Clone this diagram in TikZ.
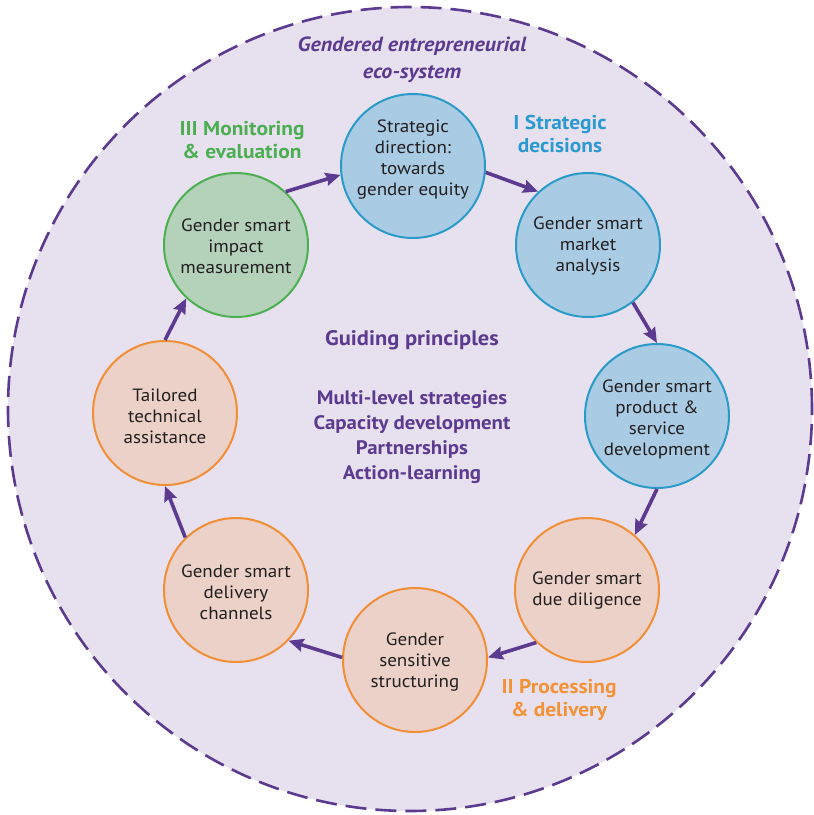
\documentclass[tikz,border=0pt]{standalone}
\usepackage{fontspec}
\setmainfont{PT Sans}[FakeStretch=1.07]
\usetikzlibrary{arrows.meta}
\definecolor{bgc}{HTML}{E7E1EF}
\definecolor{purp}{HTML}{5B3A8F}
\definecolor{bfill}{HTML}{A9CBE4}
\definecolor{bline}{HTML}{2A9BC9}
\definecolor{gfill}{HTML}{B4D2BA}
\definecolor{gline}{HTML}{4CAF50}
\definecolor{ofill}{HTML}{EBD1C7}
\definecolor{oline}{HTML}{F28E35}
\definecolor{txt}{HTML}{231F20}
\definecolor{lblue}{HTML}{2A9AD0}
\definecolor{lgreen}{HTML}{4BAE50}
\definecolor{lorange}{HTML}{F39235}
\tikzset{
  stage/.style={circle, minimum size=144pt, inner sep=0pt, line width=2pt},
  bluec/.style={stage, draw=bline, fill=bfill},
  greenc/.style={stage, draw=gline, fill=gfill},
  orangec/.style={stage, draw=oline, fill=ofill},
  ctext/.style={align=center, text=txt, font=\fontsize{17.8}{21}\selectfont, inner sep=0pt},
  phase/.style={align=center, font=\bfseries\fontsize{20}{23.5}\selectfont, inner sep=0pt},
  flow/.style={draw=purp, line width=3.6pt, -{Stealth[length=15pt,width=13pt,inset=2pt]}}
}
\begin{document}
\begin{tikzpicture}[x=1pt,y=-1pt]
\useasboundingbox (0,0) rectangle (814,815);
\node[circle, minimum size=804pt, inner sep=0pt, fill=bgc, draw=purp, line width=2.6pt, dash pattern=on 21pt off 9pt] (eco) at (410,409) {};
\node[align=center, text=purp, font=\bfseries\itshape\fontsize{20.5}{27}\selectfont, inner sep=0pt] (ecot) at (412,60) {Gendered entrepreneurial\\eco-system};

\node[bluec] (s1) at (413,166) {};
\node[bluec] (s2) at (588,245) {};
\node[bluec] (s3) at (657,416) {};
\node[orangec] (s4) at (587,590) {};
\node[orangec] (s5) at (415,660) {};
\node[orangec] (s6) at (236,590) {};
\node[orangec] (s7) at (165,413) {};
\node[greenc] (s8) at (236,245) {};

\node[ctext] (t1) at (413,160) {Strategic\\direction:\\towards\\gender equity};
\node[ctext] (t2) at (588,246) {Gender smart\\market\\analysis};
\node[ctext] (t3) at (657,419) {Gender smart\\product \&\\service\\development};
\node[ctext] (t4) at (587,591) {Gender smart\\due diligence};
\node[ctext] (t5) at (415,662) {Gender\\sensitive\\structuring};
\node[ctext] (t6) at (236,592) {Gender smart\\delivery\\channels};
\node[ctext] (t7) at (165,416) {Tailored\\technical\\assistance};
\node[ctext] (t8) at (236,246) {Gender smart\\impact\\measurement};

\draw[flow] (s8.47) -- (s1.187);
\draw[flow] (s1.-5) -- (s2.133);
\draw[flow] (s2.-52) -- (s3.90);
\draw[flow] (s3.-90) -- (s4.49);
\draw[flow] (s4.226) -- (s5.2);
\draw[flow] (s5.178) -- (s6.-44);
\draw[flow] (s6.134) -- (s7.-90);
\draw[flow] (s7.90) -- (s8.227);

\node[phase, text=lblue] (p1) at (560,134) {I Strategic\\decisions};
\node[phase, text=lgreen] (p3) at (242,140) {III Monitoring\\\& evaluation};
\node[phase, text=lorange] (p2) at (559,700) {II Processing\\\& delivery};

\node[text=purp, font=\bfseries\fontsize{21}{24}\selectfont, inner sep=0pt] (gp) at (412,340) {Guiding principles};
\node[align=center, text=purp, font=\bfseries\fontsize{19.5}{25}\selectfont, inner sep=0pt] (gl) at (412,437) {Multi-level strategies\\Capacity development\\Partnerships\\Action-learning};
\end{tikzpicture}
\end{document}
